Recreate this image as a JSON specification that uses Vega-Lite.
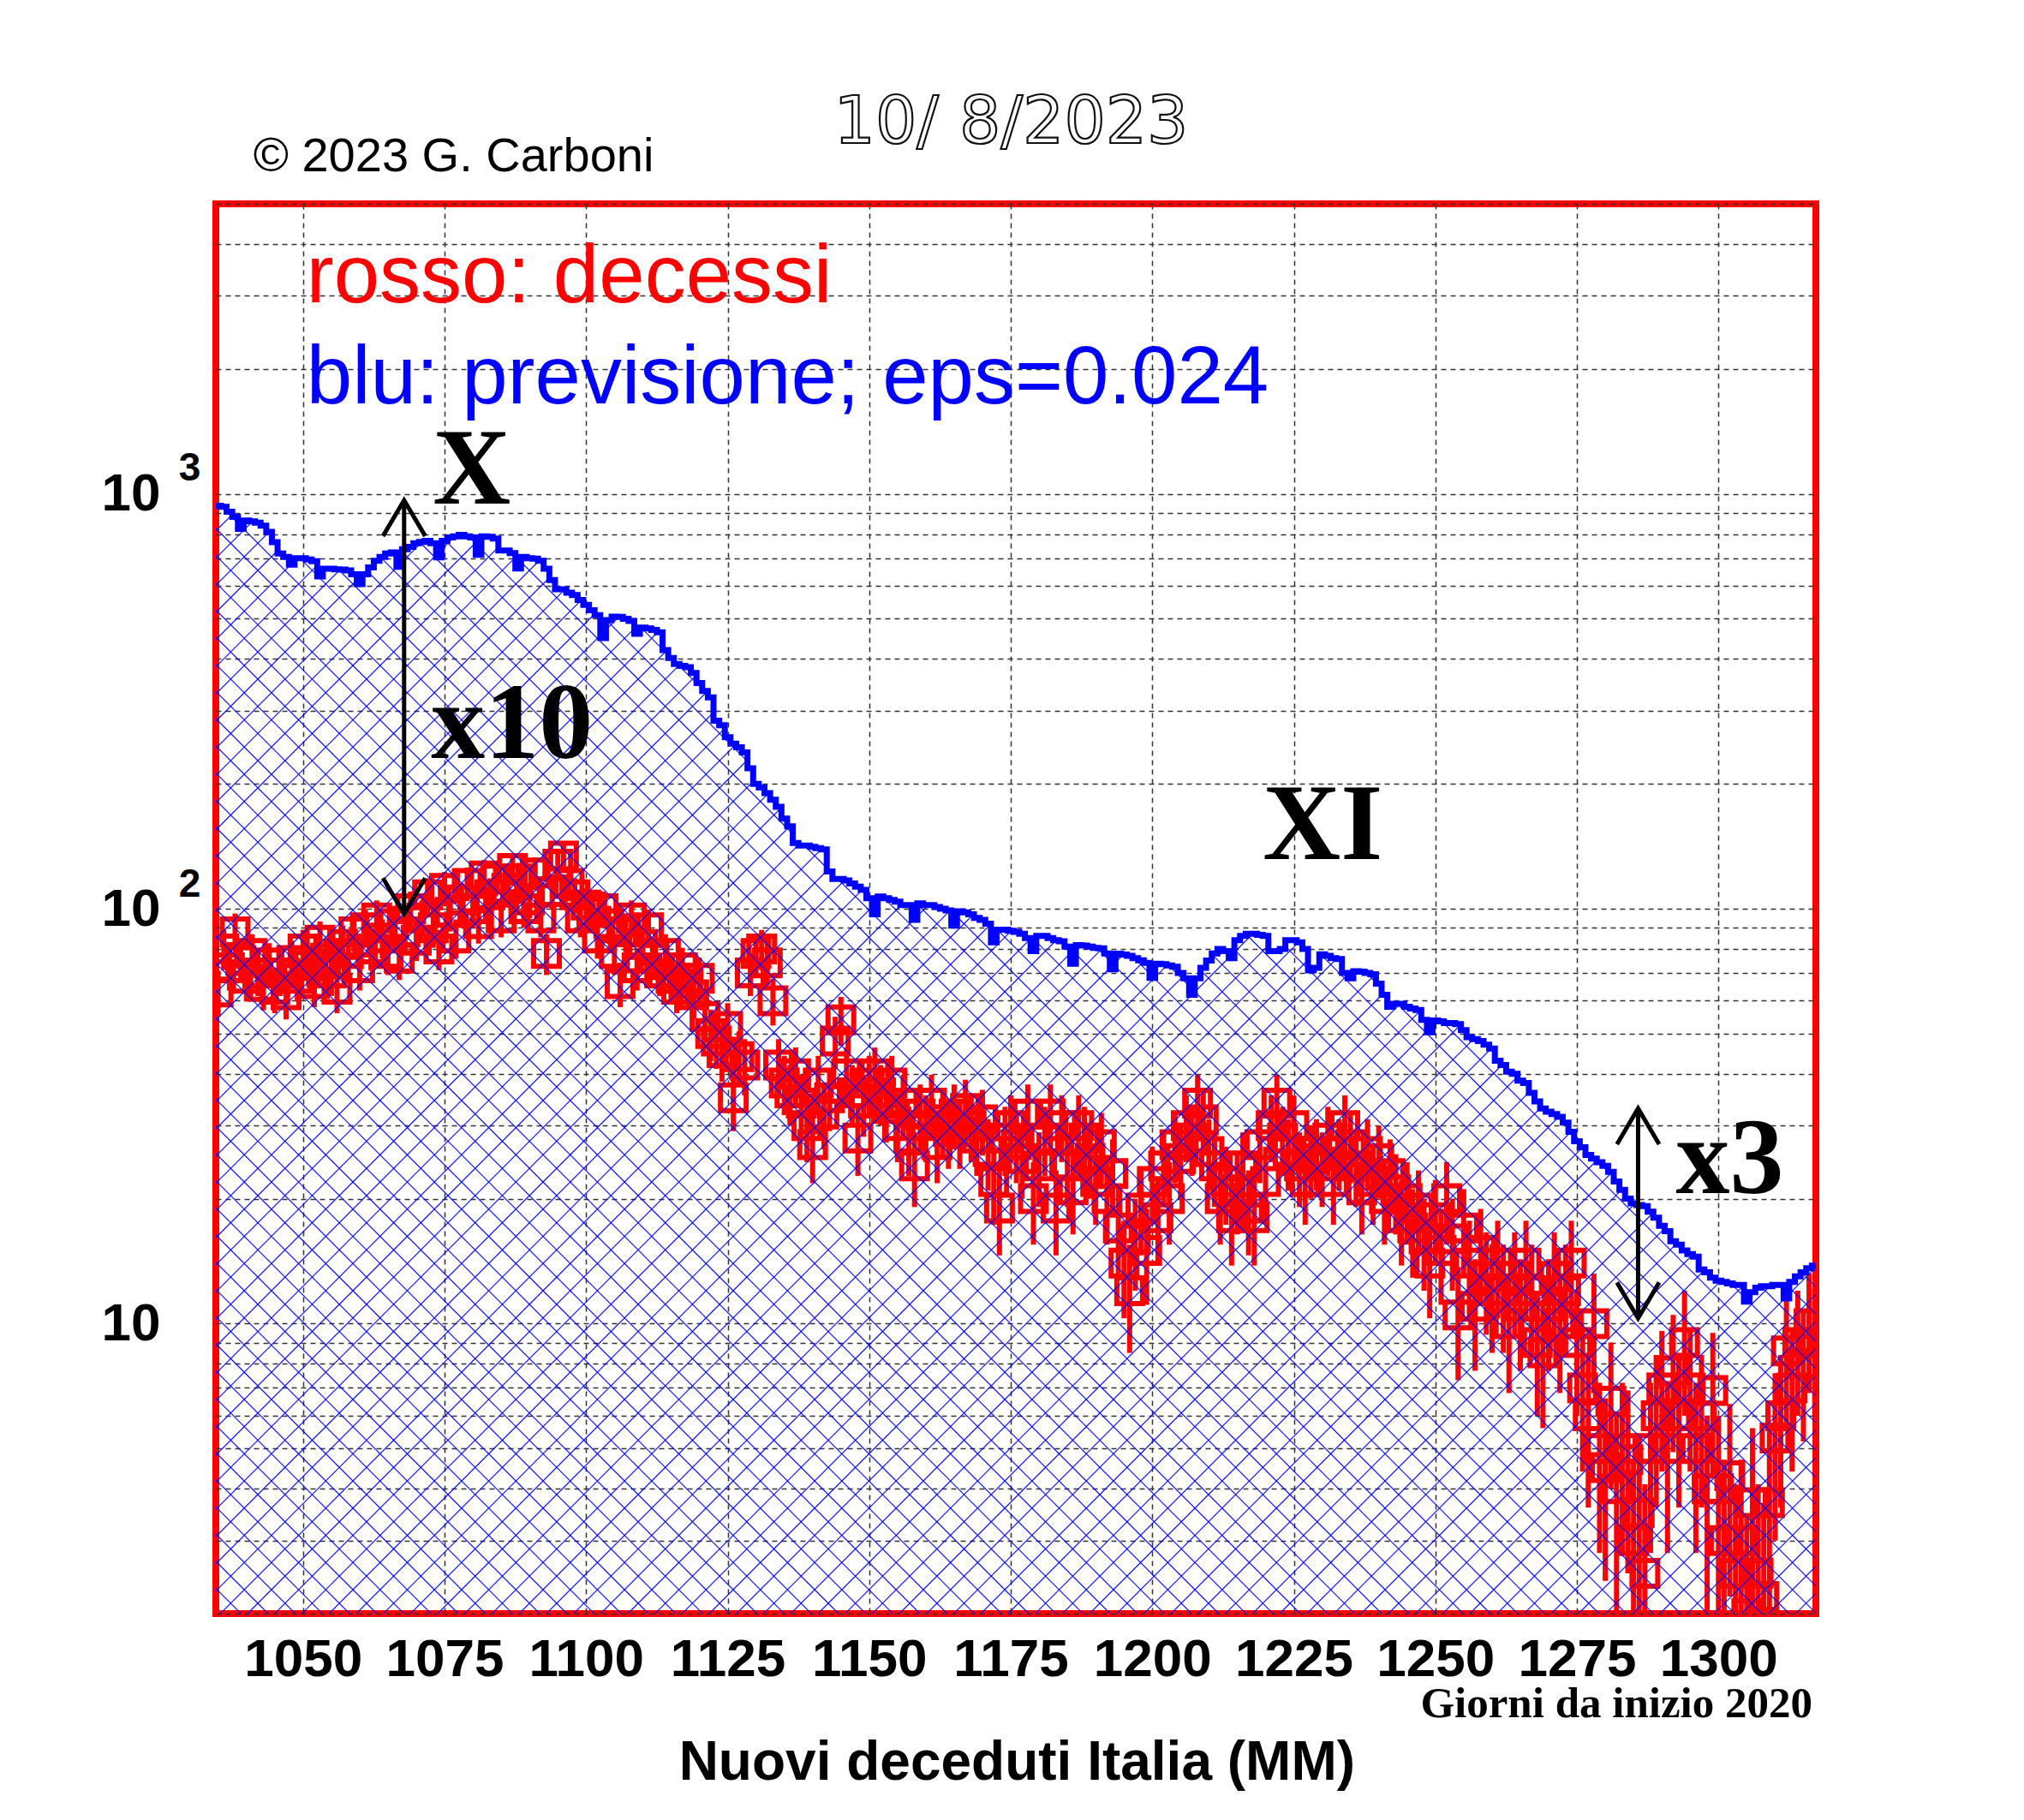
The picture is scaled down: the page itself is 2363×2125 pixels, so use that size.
{
"width":1868,"height":1646,
"autosize":"none",
"padding":{"left":252,"top":238,"right":243,"bottom":241},
"background":"white",
"config":{"view":{"stroke":"#ff0000","strokeWidth":8}},
"datasets":{
"blue":[{"d":1034,"v":936},{"d":1035,"v":936},{"d":1036,"v":930},{"d":1037,"v":905},{"d":1038,"v":880},{"d":1039,"v":823},{"d":1040,"v":862},{"d":1041,"v":858},{"d":1042,"v":852},{"d":1043,"v":838},{"d":1044,"v":810},{"d":1045,"v":765},{"d":1046,"v":718},{"d":1047,"v":705},{"d":1048,"v":675},{"d":1049,"v":700},{"d":1050,"v":700},{"d":1051,"v":695},{"d":1052,"v":688},{"d":1053,"v":632},{"d":1054,"v":660},{"d":1055,"v":660},{"d":1056,"v":658},{"d":1057,"v":657},{"d":1058,"v":654},{"d":1059,"v":640},{"d":1060,"v":606},{"d":1061,"v":640},{"d":1062,"v":665},{"d":1063,"v":690},{"d":1064,"v":705},{"d":1065,"v":718},{"d":1066,"v":722},{"d":1067,"v":667},{"d":1068,"v":735},{"d":1069,"v":745},{"d":1070,"v":760},{"d":1071,"v":766},{"d":1072,"v":770},{"d":1073,"v":760},{"d":1074,"v":703},{"d":1075,"v":770},{"d":1076,"v":785},{"d":1077,"v":790},{"d":1078,"v":796},{"d":1079,"v":790},{"d":1080,"v":785},{"d":1081,"v":713},{"d":1082,"v":790},{"d":1083,"v":788},{"d":1084,"v":780},{"d":1085,"v":730},{"d":1086,"v":730},{"d":1087,"v":720},{"d":1088,"v":661},{"d":1089,"v":705},{"d":1090,"v":700},{"d":1091,"v":698},{"d":1092,"v":690},{"d":1093,"v":660},{"d":1094,"v":620},{"d":1095,"v":589},{"d":1096,"v":589},{"d":1097,"v":578},{"d":1098,"v":570},{"d":1099,"v":555},{"d":1100,"v":540},{"d":1101,"v":524},{"d":1102,"v":510},{"d":1103,"v":449},{"d":1104,"v":496},{"d":1105,"v":506},{"d":1106,"v":505},{"d":1107,"v":500},{"d":1108,"v":494},{"d":1109,"v":460},{"d":1110,"v":476},{"d":1111,"v":474},{"d":1112,"v":470},{"d":1113,"v":464},{"d":1114,"v":420},{"d":1115,"v":402},{"d":1116,"v":389},{"d":1117,"v":385},{"d":1118,"v":382},{"d":1119,"v":370},{"d":1120,"v":350},{"d":1121,"v":335},{"d":1122,"v":323},{"d":1123,"v":284},{"d":1124,"v":277},{"d":1125,"v":259},{"d":1126,"v":250},{"d":1127,"v":245},{"d":1128,"v":238},{"d":1129,"v":218},{"d":1130,"v":200},{"d":1131,"v":196},{"d":1132,"v":190},{"d":1133,"v":183},{"d":1134,"v":176},{"d":1135,"v":165},{"d":1136,"v":158},{"d":1137,"v":144},{"d":1138,"v":142},{"d":1139,"v":142},{"d":1140,"v":141},{"d":1141,"v":140},{"d":1142,"v":139},{"d":1143,"v":123},{"d":1144,"v":118},{"d":1145,"v":118},{"d":1146,"v":117},{"d":1147,"v":115},{"d":1148,"v":113},{"d":1149,"v":111},{"d":1150,"v":106},{"d":1151,"v":97},{"d":1152,"v":107},{"d":1153,"v":106},{"d":1154,"v":105},{"d":1155,"v":104},{"d":1156,"v":102},{"d":1157,"v":102},{"d":1158,"v":94},{"d":1159,"v":103},{"d":1160,"v":102},{"d":1161,"v":102},{"d":1162,"v":101},{"d":1163,"v":100},{"d":1164,"v":99},{"d":1165,"v":91},{"d":1166,"v":98.6},{"d":1167,"v":98},{"d":1168,"v":97},{"d":1169,"v":95},{"d":1170,"v":94},{"d":1171,"v":92},{"d":1172,"v":83},{"d":1173,"v":89},{"d":1174,"v":89},{"d":1175,"v":88.5},{"d":1176,"v":88},{"d":1177,"v":87},{"d":1178,"v":85},{"d":1179,"v":79},{"d":1180,"v":86},{"d":1181,"v":86},{"d":1182,"v":85},{"d":1183,"v":84},{"d":1184,"v":83.5},{"d":1185,"v":81},{"d":1186,"v":73.7},{"d":1187,"v":81.7},{"d":1188,"v":81.5},{"d":1189,"v":81},{"d":1190,"v":80.5},{"d":1191,"v":80.3},{"d":1192,"v":78},{"d":1193,"v":71.4},{"d":1194,"v":77.9},{"d":1195,"v":77.5},{"d":1196,"v":77},{"d":1197,"v":76},{"d":1198,"v":75.1},{"d":1199,"v":74},{"d":1200,"v":68.1},{"d":1201,"v":73.7},{"d":1202,"v":73.5},{"d":1203,"v":73},{"d":1204,"v":72.5},{"d":1205,"v":70},{"d":1206,"v":68},{"d":1207,"v":62},{"d":1208,"v":68},{"d":1209,"v":72},{"d":1210,"v":75},{"d":1211,"v":78},{"d":1212,"v":80},{"d":1213,"v":79},{"d":1214,"v":76},{"d":1215,"v":84},{"d":1216,"v":86},{"d":1217,"v":87},{"d":1218,"v":87},{"d":1219,"v":86.5},{"d":1220,"v":86},{"d":1221,"v":79},{"d":1222,"v":79},{"d":1223,"v":80},{"d":1224,"v":84},{"d":1225,"v":84},{"d":1226,"v":83},{"d":1227,"v":80},{"d":1228,"v":71},{"d":1229,"v":72},{"d":1230,"v":77.6},{"d":1231,"v":77},{"d":1232,"v":76},{"d":1233,"v":75.6},{"d":1234,"v":70},{"d":1235,"v":68},{"d":1236,"v":70.7},{"d":1237,"v":70.5},{"d":1238,"v":70},{"d":1239,"v":69.5},{"d":1240,"v":66},{"d":1241,"v":62},{"d":1242,"v":58},{"d":1243,"v":59},{"d":1244,"v":59},{"d":1245,"v":58},{"d":1246,"v":57.5},{"d":1247,"v":57},{"d":1248,"v":54},{"d":1249,"v":50.4},{"d":1250,"v":53.8},{"d":1251,"v":53.5},{"d":1252,"v":53},{"d":1253,"v":53},{"d":1254,"v":52.7},{"d":1255,"v":51},{"d":1256,"v":49},{"d":1257,"v":48.5},{"d":1258,"v":48},{"d":1259,"v":47},{"d":1260,"v":46},{"d":1261,"v":43},{"d":1262,"v":42},{"d":1263,"v":40.5},{"d":1264,"v":40},{"d":1265,"v":38.5},{"d":1266,"v":38},{"d":1267,"v":36},{"d":1268,"v":34.3},{"d":1269,"v":33},{"d":1270,"v":32.4},{"d":1271,"v":32},{"d":1272,"v":31.5},{"d":1273,"v":30.5},{"d":1274,"v":29},{"d":1275,"v":27.5},{"d":1276,"v":26.6},{"d":1277,"v":25.5},{"d":1278,"v":25},{"d":1279,"v":24.5},{"d":1280,"v":24},{"d":1281,"v":23.2},{"d":1282,"v":22},{"d":1283,"v":21},{"d":1284,"v":20},{"d":1285,"v":19.5},{"d":1286,"v":19.3},{"d":1287,"v":19.2},{"d":1288,"v":18.6},{"d":1289,"v":18},{"d":1290,"v":17.2},{"d":1291,"v":16.7},{"d":1292,"v":15.8},{"d":1293,"v":15.5},{"d":1294,"v":15},{"d":1295,"v":14.7},{"d":1296,"v":14.5},{"d":1297,"v":13.5},{"d":1298,"v":13.3},{"d":1299,"v":12.9},{"d":1300,"v":12.7},{"d":1301,"v":12.6},{"d":1302,"v":12.5},{"d":1303,"v":12.4},{"d":1304,"v":12.4},{"d":1305,"v":11.3},{"d":1306,"v":11.9},{"d":1307,"v":12.2},{"d":1308,"v":12.3},{"d":1309,"v":12.3},{"d":1310,"v":12.4},{"d":1311,"v":12.4},{"d":1312,"v":11.5},{"d":1313,"v":12.6},{"d":1314,"v":13},{"d":1315,"v":13.3},{"d":1316,"v":13.6},{"d":1317,"v":13.8},{"d":1318,"v":13.8}],
"red":[{"d":1035,"v":63,"e":7.9},{"d":1036,"v":80,"e":8.9},{"d":1037,"v":72,"e":8.5},{"d":1038,"v":88,"e":9.4},{"d":1039,"v":75,"e":8.7},{"d":1040,"v":68,"e":8.2},{"d":1041,"v":78,"e":8.8},{"d":1042,"v":70,"e":8.4},{"d":1043,"v":65,"e":8.1},{"d":1044,"v":74,"e":8.6},{"d":1045,"v":64,"e":8},{"d":1046,"v":70,"e":8.4},{"d":1047,"v":62,"e":7.9},{"d":1048,"v":75,"e":8.7},{"d":1049,"v":68,"e":8.2},{"d":1050,"v":80,"e":8.9},{"d":1051,"v":73,"e":8.5},{"d":1052,"v":66,"e":8.1},{"d":1053,"v":84,"e":9.2},{"d":1054,"v":76,"e":8.7},{"d":1055,"v":70,"e":8.4},{"d":1056,"v":64,"e":8},{"d":1057,"v":82,"e":9.1},{"d":1058,"v":78,"e":8.8},{"d":1059,"v":88,"e":9.4},{"d":1060,"v":72,"e":8.5},{"d":1061,"v":90,"e":9.5},{"d":1062,"v":80,"e":8.9},{"d":1063,"v":95,"e":9.7},{"d":1064,"v":85,"e":9.2},{"d":1065,"v":78,"e":8.8},{"d":1066,"v":92,"e":9.6},{"d":1067,"v":76,"e":8.7},{"d":1068,"v":88,"e":9.4},{"d":1069,"v":100,"e":10},{"d":1070,"v":84,"e":9.2},{"d":1071,"v":95,"e":9.7},{"d":1072,"v":108,"e":10.4},{"d":1073,"v":90,"e":9.5},{"d":1074,"v":80,"e":8.9},{"d":1075,"v":112,"e":10.6},{"d":1076,"v":98,"e":9.9},{"d":1077,"v":85,"e":9.2},{"d":1078,"v":105,"e":10.2},{"d":1079,"v":115,"e":10.7},{"d":1080,"v":100,"e":10},{"d":1081,"v":92,"e":9.6},{"d":1082,"v":120,"e":11},{"d":1083,"v":108,"e":10.4},{"d":1084,"v":118,"e":10.9},{"d":1085,"v":95,"e":9.7},{"d":1086,"v":112,"e":10.6},{"d":1087,"v":125,"e":11.2},{"d":1088,"v":118,"e":10.9},{"d":1089,"v":100,"e":10},{"d":1090,"v":105,"e":10.2},{"d":1091,"v":122,"e":11},{"d":1092,"v":95,"e":9.7},{"d":1093,"v":78,"e":8.8},{"d":1094,"v":110,"e":10.5},{"d":1095,"v":128,"e":11.3},{"d":1096,"v":134,"e":11.6},{"d":1097,"v":115,"e":10.7},{"d":1098,"v":108,"e":10.4},{"d":1099,"v":95,"e":9.7},{"d":1100,"v":102,"e":10.1},{"d":1101,"v":98,"e":9.9},{"d":1102,"v":85,"e":9.2},{"d":1103,"v":100,"e":10},{"d":1104,"v":92,"e":9.6},{"d":1105,"v":78,"e":8.8},{"d":1106,"v":66,"e":8.1},{"d":1107,"v":88,"e":9.4},{"d":1108,"v":95,"e":9.7},{"d":1109,"v":72,"e":8.5},{"d":1110,"v":82,"e":9.1},{"d":1111,"v":90,"e":9.5},{"d":1112,"v":76,"e":8.7},{"d":1113,"v":70,"e":8.4},{"d":1114,"v":78,"e":8.8},{"d":1115,"v":68,"e":8.2},{"d":1116,"v":64,"e":8},{"d":1117,"v":72,"e":8.5},{"d":1118,"v":66,"e":8.1},{"d":1119,"v":62,"e":7.9},{"d":1120,"v":68,"e":8.2},{"d":1121,"v":55,"e":7.4},{"d":1122,"v":50,"e":7.1},{"d":1123,"v":48,"e":6.9},{"d":1124,"v":45,"e":6.7},{"d":1125,"v":52,"e":7.2},{"d":1126,"v":35,"e":5.9},{"d":1127,"v":44,"e":6.6},{"d":1128,"v":42,"e":6.5},{"d":1129,"v":70,"e":8.4},{"d":1130,"v":78,"e":8.8},{"d":1131,"v":80,"e":8.9},{"d":1132,"v":74,"e":8.6},{"d":1133,"v":60,"e":7.7},{"d":1134,"v":42,"e":6.5},{"d":1135,"v":38,"e":6.2},{"d":1136,"v":36,"e":6},{"d":1137,"v":40,"e":6.3},{"d":1138,"v":34,"e":5.8},{"d":1139,"v":30,"e":5.5},{"d":1140,"v":27,"e":5.2},{"d":1141,"v":38,"e":6.2},{"d":1142,"v":32,"e":5.7},{"d":1143,"v":35,"e":5.9},{"d":1144,"v":48,"e":6.9},{"d":1145,"v":54,"e":7.3},{"d":1146,"v":40,"e":6.3},{"d":1147,"v":36,"e":6},{"d":1148,"v":28,"e":5.3},{"d":1149,"v":34,"e":5.8},{"d":1150,"v":38,"e":6.2},{"d":1151,"v":40,"e":6.3},{"d":1152,"v":36,"e":6},{"d":1153,"v":33,"e":5.7},{"d":1154,"v":38,"e":6.2},{"d":1155,"v":30,"e":5.5},{"d":1156,"v":34,"e":5.8},{"d":1157,"v":28,"e":5.3},{"d":1158,"v":24,"e":4.9},{"d":1159,"v":32,"e":5.7},{"d":1160,"v":30,"e":5.5},{"d":1161,"v":34,"e":5.8},{"d":1162,"v":27,"e":5.2},{"d":1163,"v":31,"e":5.6},{"d":1164,"v":29,"e":5.4},{"d":1165,"v":32,"e":5.7},{"d":1166,"v":29,"e":5.4},{"d":1167,"v":33,"e":5.7},{"d":1168,"v":30,"e":5.5},{"d":1169,"v":28,"e":5.3},{"d":1170,"v":31,"e":5.6},{"d":1171,"v":26,"e":5.1},{"d":1172,"v":22,"e":4.7},{"d":1173,"v":19,"e":4.4},{"d":1174,"v":28,"e":5.3},{"d":1175,"v":30,"e":5.5},{"d":1176,"v":27,"e":5.2},{"d":1177,"v":25,"e":5},{"d":1178,"v":32,"e":5.7},{"d":1179,"v":20,"e":4.5},{"d":1180,"v":24,"e":4.9},{"d":1181,"v":28,"e":5.3},{"d":1182,"v":32,"e":5.7},{"d":1183,"v":19,"e":4.4},{"d":1184,"v":30,"e":5.5},{"d":1185,"v":24,"e":4.9},{"d":1186,"v":21,"e":4.6},{"d":1187,"v":30,"e":5.5},{"d":1188,"v":28,"e":5.3},{"d":1189,"v":25,"e":5},{"d":1190,"v":22,"e":4.7},{"d":1191,"v":27,"e":5.2},{"d":1192,"v":20,"e":4.5},{"d":1193,"v":23,"e":4.8},{"d":1194,"v":17,"e":4.1},{"d":1195,"v":14,"e":3.7},{"d":1196,"v":12,"e":3.5},{"d":1197,"v":16,"e":4},{"d":1198,"v":19,"e":4.4},{"d":1199,"v":15,"e":3.9},{"d":1200,"v":22,"e":4.7},{"d":1201,"v":18,"e":4.2},{"d":1202,"v":24,"e":4.9},{"d":1203,"v":20,"e":4.5},{"d":1204,"v":27,"e":5.2},{"d":1205,"v":25,"e":5},{"d":1206,"v":30,"e":5.5},{"d":1207,"v":28,"e":5.3},{"d":1208,"v":34,"e":5.8},{"d":1209,"v":31,"e":5.6},{"d":1210,"v":26,"e":5.1},{"d":1211,"v":24,"e":4.9},{"d":1212,"v":20,"e":4.5},{"d":1213,"v":22,"e":4.7},{"d":1214,"v":18,"e":4.2},{"d":1215,"v":21,"e":4.6},{"d":1216,"v":24,"e":4.9},{"d":1217,"v":19,"e":4.4},{"d":1218,"v":18,"e":4.2},{"d":1219,"v":27,"e":5.2},{"d":1220,"v":22,"e":4.7},{"d":1221,"v":30,"e":5.5},{"d":1222,"v":34,"e":5.8},{"d":1223,"v":28,"e":5.3},{"d":1224,"v":26,"e":5.1},{"d":1225,"v":30,"e":5.5},{"d":1226,"v":24,"e":4.9},{"d":1227,"v":22,"e":4.7},{"d":1228,"v":25,"e":5},{"d":1229,"v":26,"e":5.1},{"d":1230,"v":24,"e":4.9},{"d":1231,"v":28,"e":5.3},{"d":1232,"v":22,"e":4.7},{"d":1233,"v":26,"e":5.1},{"d":1234,"v":30,"e":5.5},{"d":1235,"v":27,"e":5.2},{"d":1236,"v":24,"e":4.9},{"d":1237,"v":21,"e":4.6},{"d":1238,"v":26,"e":5.1},{"d":1239,"v":22,"e":4.7},{"d":1240,"v":25,"e":5},{"d":1241,"v":20,"e":4.5},{"d":1242,"v":23,"e":4.8},{"d":1243,"v":21,"e":4.6},{"d":1244,"v":18,"e":4.2},{"d":1245,"v":20,"e":4.5},{"d":1246,"v":17,"e":4.1},{"d":1247,"v":19,"e":4.4},{"d":1248,"v":16,"e":4},{"d":1249,"v":14,"e":3.7},{"d":1250,"v":18,"e":4.2},{"d":1251,"v":15,"e":3.9},{"d":1252,"v":20,"e":4.5},{"d":1253,"v":16,"e":4},{"d":1254,"v":10.5,"e":3.2},{"d":1255,"v":17,"e":4.1},{"d":1256,"v":14,"e":3.7},{"d":1257,"v":11,"e":3.3},{"d":1258,"v":15,"e":3.9},{"d":1259,"v":13,"e":3.6},{"d":1260,"v":12,"e":3.5},{"d":1261,"v":14,"e":3.7},{"d":1262,"v":12,"e":3.5},{"d":1263,"v":10,"e":3.2},{"d":1264,"v":13,"e":3.6},{"d":1265,"v":11,"e":3.3},{"d":1266,"v":14,"e":3.7},{"d":1267,"v":12,"e":3.5},{"d":1268,"v":9,"e":3},{"d":1269,"v":8.5,"e":2.9},{"d":1270,"v":11,"e":3.3},{"d":1271,"v":13,"e":3.6},{"d":1272,"v":10,"e":3.2},{"d":1273,"v":12,"e":3.5},{"d":1274,"v":14,"e":3.7},{"d":1275,"v":9,"e":3},{"d":1276,"v":7,"e":2.6},{"d":1277,"v":6,"e":2.4},{"d":1278,"v":10,"e":3.2},{"d":1279,"v":5,"e":2.2},{"d":1280,"v":4.5,"e":2.1},{"d":1281,"v":6.5,"e":2.5},{"d":1282,"v":4,"e":2},{"d":1283,"v":5,"e":2.2},{"d":1284,"v":4.7,"e":2.2},{"d":1285,"v":3,"e":1.7},{"d":1286,"v":3.5,"e":1.9},{"d":1287,"v":2.5,"e":1.6},{"d":1288,"v":5,"e":2.2},{"d":1289,"v":6,"e":2.4},{"d":1290,"v":7,"e":2.6},{"d":1291,"v":5,"e":2.2},{"d":1292,"v":7.7,"e":2.8},{"d":1293,"v":6,"e":2.4},{"d":1294,"v":9,"e":3},{"d":1295,"v":7,"e":2.6},{"d":1296,"v":5,"e":2.2},{"d":1297,"v":6,"e":2.4},{"d":1298,"v":4,"e":2},{"d":1299,"v":6.9,"e":2.6},{"d":1300,"v":4,"e":2},{"d":1301,"v":3,"e":1.7},{"d":1302,"v":4.3,"e":2.1},{"d":1303,"v":2.5,"e":1.6},{"d":1304,"v":3,"e":1.7},{"d":1305,"v":2,"e":1.4},{"d":1306,"v":3.7,"e":1.9},{"d":1307,"v":2.5,"e":1.6},{"d":1308,"v":2.2,"e":1.5},{"d":1309,"v":3.7,"e":1.9},{"d":1310,"v":5.3,"e":2.3},{"d":1311,"v":6,"e":2.4},{"d":1312,"v":8.6,"e":2.9},{"d":1313,"v":7,"e":2.6},{"d":1314,"v":9,"e":3},{"d":1315,"v":8,"e":2.8},{"d":1316,"v":10,"e":3.2},{"d":1317,"v":9,"e":3}]
},
"encoding":{
"x":{"field":"d","type":"quantitative","title":null,"scale":{"domain":[1034.6,1317.2],"nice":false,"zero":false},
"axis":{"values":[1050,1075,1100,1125,1150,1175,1200,1225,1250,1275,1300],"format":"d","grid":true,"gridColor":"#333","gridDash":[6,5],"gridWidth":1.5,"ticks":false,"tickSize":0,"domain":false,"labelFont":"Liberation Sans","labelFontWeight":"bold","labelFontSize":62,"labelColor":"#000","labelPadding":23,"labelFlush":false,"labelOverlap":false}},
"y":{"field":"v","type":"quantitative","title":null,"scale":{"type":"log","domain":[2,5000],"nice":false},
"axis":{"values":[2,3,4,5,6,7,8,9,10,20,30,40,50,60,70,80,90,100,200,300,400,500,600,700,800,900,1000,2000,3000,4000,5000],"labelExpr":"datum.value==10||datum.value==100||datum.value==1000?'10':''","grid":true,"gridColor":"#333","gridDash":[6,5],"gridWidth":1.5,"ticks":false,"tickSize":0,"domain":false,"labelFont":"Liberation Sans","labelFontWeight":"bold","labelFontSize":62,"labelColor":"#000","labelPadding":65,"labelOverlap":false,"labelFlush":false}}
},
"layer":[
{"data":{"name":"red"},"mark":{"type":"errorbar","ticks":false,"clip":true,"color":"#ff0000","rule":{"strokeWidth":6}},"encoding":{"yError":{"field":"e"}}},
{"data":{"name":"red"},"mark":{"type":"point","shape":"square","filled":false,"size":900,"strokeWidth":6,"color":"#ff0000","opacity":1,"clip":true}},
{"data":{"name":"blue"},"mark":{"type":"area","interpolate":"step","clip":true,"fill":{"gradient":"linear","x1":0,"y1":0,"x2":1.146,"y2":0.789,"stops":[
{"offset":0,"color":"#00f0"},{"offset":0.0005,"color":"#00f"},{"offset":0.001,"color":"#00f0"},
{"offset":0.01,"color":"#00f0"},{"offset":0.0105,"color":"#00f"},{"offset":0.011,"color":"#00f0"},
{"offset":0.02,"color":"#00f0"},{"offset":0.0205,"color":"#00f"},{"offset":0.021,"color":"#00f0"},
{"offset":0.03,"color":"#00f0"},{"offset":0.0305,"color":"#00f"},{"offset":0.031,"color":"#00f0"},
{"offset":0.04,"color":"#00f0"},{"offset":0.0405,"color":"#00f"},{"offset":0.041,"color":"#00f0"},
{"offset":0.05,"color":"#00f0"},{"offset":0.0505,"color":"#00f"},{"offset":0.051,"color":"#00f0"},
{"offset":0.06,"color":"#00f0"},{"offset":0.0605,"color":"#00f"},{"offset":0.061,"color":"#00f0"},
{"offset":0.07,"color":"#00f0"},{"offset":0.0705,"color":"#00f"},{"offset":0.071,"color":"#00f0"},
{"offset":0.08,"color":"#00f0"},{"offset":0.0805,"color":"#00f"},{"offset":0.081,"color":"#00f0"},
{"offset":0.09,"color":"#00f0"},{"offset":0.0905,"color":"#00f"},{"offset":0.091,"color":"#00f0"},
{"offset":0.1,"color":"#00f0"},{"offset":0.1005,"color":"#00f"},{"offset":0.101,"color":"#00f0"},
{"offset":0.11,"color":"#00f0"},{"offset":0.1105,"color":"#00f"},{"offset":0.111,"color":"#00f0"},
{"offset":0.12,"color":"#00f0"},{"offset":0.1205,"color":"#00f"},{"offset":0.121,"color":"#00f0"},
{"offset":0.13,"color":"#00f0"},{"offset":0.1305,"color":"#00f"},{"offset":0.131,"color":"#00f0"},
{"offset":0.14,"color":"#00f0"},{"offset":0.1405,"color":"#00f"},{"offset":0.141,"color":"#00f0"},
{"offset":0.15,"color":"#00f0"},{"offset":0.1505,"color":"#00f"},{"offset":0.151,"color":"#00f0"},
{"offset":0.16,"color":"#00f0"},{"offset":0.1605,"color":"#00f"},{"offset":0.161,"color":"#00f0"},
{"offset":0.17,"color":"#00f0"},{"offset":0.1705,"color":"#00f"},{"offset":0.171,"color":"#00f0"},
{"offset":0.18,"color":"#00f0"},{"offset":0.1805,"color":"#00f"},{"offset":0.181,"color":"#00f0"},
{"offset":0.19,"color":"#00f0"},{"offset":0.1905,"color":"#00f"},{"offset":0.191,"color":"#00f0"},
{"offset":0.2,"color":"#00f0"},{"offset":0.2005,"color":"#00f"},{"offset":0.201,"color":"#00f0"},
{"offset":0.21,"color":"#00f0"},{"offset":0.2105,"color":"#00f"},{"offset":0.211,"color":"#00f0"},
{"offset":0.22,"color":"#00f0"},{"offset":0.2205,"color":"#00f"},{"offset":0.221,"color":"#00f0"},
{"offset":0.23,"color":"#00f0"},{"offset":0.2305,"color":"#00f"},{"offset":0.231,"color":"#00f0"},
{"offset":0.24,"color":"#00f0"},{"offset":0.2405,"color":"#00f"},{"offset":0.241,"color":"#00f0"},
{"offset":0.25,"color":"#00f0"},{"offset":0.2505,"color":"#00f"},{"offset":0.251,"color":"#00f0"},
{"offset":0.26,"color":"#00f0"},{"offset":0.2605,"color":"#00f"},{"offset":0.261,"color":"#00f0"},
{"offset":0.27,"color":"#00f0"},{"offset":0.2705,"color":"#00f"},{"offset":0.271,"color":"#00f0"},
{"offset":0.28,"color":"#00f0"},{"offset":0.2805,"color":"#00f"},{"offset":0.281,"color":"#00f0"},
{"offset":0.29,"color":"#00f0"},{"offset":0.2905,"color":"#00f"},{"offset":0.291,"color":"#00f0"},
{"offset":0.3,"color":"#00f0"},{"offset":0.3005,"color":"#00f"},{"offset":0.301,"color":"#00f0"},
{"offset":0.31,"color":"#00f0"},{"offset":0.3105,"color":"#00f"},{"offset":0.311,"color":"#00f0"},
{"offset":0.32,"color":"#00f0"},{"offset":0.3205,"color":"#00f"},{"offset":0.321,"color":"#00f0"},
{"offset":0.33,"color":"#00f0"},{"offset":0.3305,"color":"#00f"},{"offset":0.331,"color":"#00f0"},
{"offset":0.34,"color":"#00f0"},{"offset":0.3405,"color":"#00f"},{"offset":0.341,"color":"#00f0"},
{"offset":0.35,"color":"#00f0"},{"offset":0.3505,"color":"#00f"},{"offset":0.351,"color":"#00f0"},
{"offset":0.36,"color":"#00f0"},{"offset":0.3605,"color":"#00f"},{"offset":0.361,"color":"#00f0"},
{"offset":0.37,"color":"#00f0"},{"offset":0.3705,"color":"#00f"},{"offset":0.371,"color":"#00f0"},
{"offset":0.38,"color":"#00f0"},{"offset":0.3805,"color":"#00f"},{"offset":0.381,"color":"#00f0"},
{"offset":0.39,"color":"#00f0"},{"offset":0.3905,"color":"#00f"},{"offset":0.391,"color":"#00f0"},
{"offset":0.4,"color":"#00f0"},{"offset":0.4005,"color":"#00f"},{"offset":0.401,"color":"#00f0"},
{"offset":0.41,"color":"#00f0"},{"offset":0.4105,"color":"#00f"},{"offset":0.411,"color":"#00f0"},
{"offset":0.42,"color":"#00f0"},{"offset":0.4205,"color":"#00f"},{"offset":0.421,"color":"#00f0"},
{"offset":0.43,"color":"#00f0"},{"offset":0.4305,"color":"#00f"},{"offset":0.431,"color":"#00f0"},
{"offset":0.44,"color":"#00f0"},{"offset":0.4405,"color":"#00f"},{"offset":0.441,"color":"#00f0"},
{"offset":0.45,"color":"#00f0"},{"offset":0.4505,"color":"#00f"},{"offset":0.451,"color":"#00f0"},
{"offset":0.46,"color":"#00f0"},{"offset":0.4605,"color":"#00f"},{"offset":0.461,"color":"#00f0"},
{"offset":0.47,"color":"#00f0"},{"offset":0.4705,"color":"#00f"},{"offset":0.471,"color":"#00f0"},
{"offset":0.48,"color":"#00f0"},{"offset":0.4805,"color":"#00f"},{"offset":0.481,"color":"#00f0"},
{"offset":0.49,"color":"#00f0"},{"offset":0.4905,"color":"#00f"},{"offset":0.491,"color":"#00f0"},
{"offset":0.5,"color":"#00f0"},{"offset":0.5005,"color":"#00f"},{"offset":0.501,"color":"#00f0"},
{"offset":0.51,"color":"#00f0"},{"offset":0.5105,"color":"#00f"},{"offset":0.511,"color":"#00f0"},
{"offset":0.52,"color":"#00f0"},{"offset":0.5205,"color":"#00f"},{"offset":0.521,"color":"#00f0"},
{"offset":0.53,"color":"#00f0"},{"offset":0.5305,"color":"#00f"},{"offset":0.531,"color":"#00f0"},
{"offset":0.54,"color":"#00f0"},{"offset":0.5405,"color":"#00f"},{"offset":0.541,"color":"#00f0"},
{"offset":0.55,"color":"#00f0"},{"offset":0.5505,"color":"#00f"},{"offset":0.551,"color":"#00f0"},
{"offset":0.56,"color":"#00f0"},{"offset":0.5605,"color":"#00f"},{"offset":0.561,"color":"#00f0"},
{"offset":0.57,"color":"#00f0"},{"offset":0.5705,"color":"#00f"},{"offset":0.571,"color":"#00f0"},
{"offset":0.58,"color":"#00f0"},{"offset":0.5805,"color":"#00f"},{"offset":0.581,"color":"#00f0"},
{"offset":0.59,"color":"#00f0"},{"offset":0.5905,"color":"#00f"},{"offset":0.591,"color":"#00f0"},
{"offset":0.6,"color":"#00f0"},{"offset":0.6005,"color":"#00f"},{"offset":0.601,"color":"#00f0"},
{"offset":0.61,"color":"#00f0"},{"offset":0.6105,"color":"#00f"},{"offset":0.611,"color":"#00f0"},
{"offset":0.62,"color":"#00f0"},{"offset":0.6205,"color":"#00f"},{"offset":0.621,"color":"#00f0"},
{"offset":0.63,"color":"#00f0"},{"offset":0.6305,"color":"#00f"},{"offset":0.631,"color":"#00f0"},
{"offset":0.64,"color":"#00f0"},{"offset":0.6405,"color":"#00f"},{"offset":0.641,"color":"#00f0"},
{"offset":0.65,"color":"#00f0"},{"offset":0.6505,"color":"#00f"},{"offset":0.651,"color":"#00f0"},
{"offset":0.66,"color":"#00f0"},{"offset":0.6605,"color":"#00f"},{"offset":0.661,"color":"#00f0"},
{"offset":0.67,"color":"#00f0"},{"offset":0.6705,"color":"#00f"},{"offset":0.671,"color":"#00f0"},
{"offset":0.68,"color":"#00f0"},{"offset":0.6805,"color":"#00f"},{"offset":0.681,"color":"#00f0"},
{"offset":0.69,"color":"#00f0"},{"offset":0.6905,"color":"#00f"},{"offset":0.691,"color":"#00f0"},
{"offset":0.7,"color":"#00f0"},{"offset":0.7005,"color":"#00f"},{"offset":0.701,"color":"#00f0"},
{"offset":0.71,"color":"#00f0"},{"offset":0.7105,"color":"#00f"},{"offset":0.711,"color":"#00f0"},
{"offset":0.72,"color":"#00f0"},{"offset":0.7205,"color":"#00f"},{"offset":0.721,"color":"#00f0"},
{"offset":0.73,"color":"#00f0"},{"offset":0.7305,"color":"#00f"},{"offset":0.731,"color":"#00f0"},
{"offset":0.74,"color":"#00f0"},{"offset":0.7405,"color":"#00f"},{"offset":0.741,"color":"#00f0"},
{"offset":0.75,"color":"#00f0"},{"offset":0.7505,"color":"#00f"},{"offset":0.751,"color":"#00f0"},
{"offset":0.76,"color":"#00f0"},{"offset":0.7605,"color":"#00f"},{"offset":0.761,"color":"#00f0"},
{"offset":0.77,"color":"#00f0"},{"offset":0.7705,"color":"#00f"},{"offset":0.771,"color":"#00f0"},
{"offset":0.78,"color":"#00f0"},{"offset":0.7805,"color":"#00f"},{"offset":0.781,"color":"#00f0"},
{"offset":0.79,"color":"#00f0"},{"offset":0.7905,"color":"#00f"},{"offset":0.791,"color":"#00f0"},
{"offset":0.8,"color":"#00f0"},{"offset":0.8005,"color":"#00f"},{"offset":0.801,"color":"#00f0"},
{"offset":0.81,"color":"#00f0"},{"offset":0.8105,"color":"#00f"},{"offset":0.811,"color":"#00f0"},
{"offset":0.82,"color":"#00f0"},{"offset":0.8205,"color":"#00f"},{"offset":0.821,"color":"#00f0"},
{"offset":0.83,"color":"#00f0"},{"offset":0.8305,"color":"#00f"},{"offset":0.831,"color":"#00f0"},
{"offset":0.84,"color":"#00f0"},{"offset":0.8405,"color":"#00f"},{"offset":0.841,"color":"#00f0"},
{"offset":0.85,"color":"#00f0"},{"offset":0.8505,"color":"#00f"},{"offset":0.851,"color":"#00f0"},
{"offset":0.86,"color":"#00f0"},{"offset":0.8605,"color":"#00f"},{"offset":0.861,"color":"#00f0"},
{"offset":0.87,"color":"#00f0"},{"offset":0.8705,"color":"#00f"},{"offset":0.871,"color":"#00f0"},
{"offset":0.88,"color":"#00f0"},{"offset":0.8805,"color":"#00f"},{"offset":0.881,"color":"#00f0"},
{"offset":0.89,"color":"#00f0"},{"offset":0.8905,"color":"#00f"},{"offset":0.891,"color":"#00f0"},
{"offset":0.9,"color":"#00f0"},{"offset":0.9005,"color":"#00f"},{"offset":0.901,"color":"#00f0"},
{"offset":0.91,"color":"#00f0"},{"offset":0.9105,"color":"#00f"},{"offset":0.911,"color":"#00f0"},
{"offset":0.92,"color":"#00f0"},{"offset":0.9205,"color":"#00f"},{"offset":0.921,"color":"#00f0"},
{"offset":0.93,"color":"#00f0"},{"offset":0.9305,"color":"#00f"},{"offset":0.931,"color":"#00f0"},
{"offset":0.94,"color":"#00f0"},{"offset":0.9405,"color":"#00f"},{"offset":0.941,"color":"#00f0"},
{"offset":0.95,"color":"#00f0"},{"offset":0.9505,"color":"#00f"},{"offset":0.951,"color":"#00f0"},
{"offset":0.96,"color":"#00f0"},{"offset":0.9605,"color":"#00f"},{"offset":0.961,"color":"#00f0"},
{"offset":0.97,"color":"#00f0"},{"offset":0.9705,"color":"#00f"},{"offset":0.971,"color":"#00f0"},
{"offset":0.98,"color":"#00f0"},{"offset":0.9805,"color":"#00f"},{"offset":0.981,"color":"#00f0"},
{"offset":0.99,"color":"#00f0"},{"offset":0.9905,"color":"#00f"},{"offset":0.991,"color":"#00f0"},
{"offset":1,"color":"#00f0"}]}},"encoding":{"y2":{"datum":2}}},
{"data":{"name":"blue"},"mark":{"type":"area","interpolate":"step","clip":true,"fill":{"gradient":"linear","x1":0,"y1":1,"x2":1.146,"y2":0.211,"stops":[
{"offset":0,"color":"#00f0"},{"offset":0.0005,"color":"#00f"},{"offset":0.001,"color":"#00f0"},
{"offset":0.01,"color":"#00f0"},{"offset":0.0105,"color":"#00f"},{"offset":0.011,"color":"#00f0"},
{"offset":0.02,"color":"#00f0"},{"offset":0.0205,"color":"#00f"},{"offset":0.021,"color":"#00f0"},
{"offset":0.03,"color":"#00f0"},{"offset":0.0305,"color":"#00f"},{"offset":0.031,"color":"#00f0"},
{"offset":0.04,"color":"#00f0"},{"offset":0.0405,"color":"#00f"},{"offset":0.041,"color":"#00f0"},
{"offset":0.05,"color":"#00f0"},{"offset":0.0505,"color":"#00f"},{"offset":0.051,"color":"#00f0"},
{"offset":0.06,"color":"#00f0"},{"offset":0.0605,"color":"#00f"},{"offset":0.061,"color":"#00f0"},
{"offset":0.07,"color":"#00f0"},{"offset":0.0705,"color":"#00f"},{"offset":0.071,"color":"#00f0"},
{"offset":0.08,"color":"#00f0"},{"offset":0.0805,"color":"#00f"},{"offset":0.081,"color":"#00f0"},
{"offset":0.09,"color":"#00f0"},{"offset":0.0905,"color":"#00f"},{"offset":0.091,"color":"#00f0"},
{"offset":0.1,"color":"#00f0"},{"offset":0.1005,"color":"#00f"},{"offset":0.101,"color":"#00f0"},
{"offset":0.11,"color":"#00f0"},{"offset":0.1105,"color":"#00f"},{"offset":0.111,"color":"#00f0"},
{"offset":0.12,"color":"#00f0"},{"offset":0.1205,"color":"#00f"},{"offset":0.121,"color":"#00f0"},
{"offset":0.13,"color":"#00f0"},{"offset":0.1305,"color":"#00f"},{"offset":0.131,"color":"#00f0"},
{"offset":0.14,"color":"#00f0"},{"offset":0.1405,"color":"#00f"},{"offset":0.141,"color":"#00f0"},
{"offset":0.15,"color":"#00f0"},{"offset":0.1505,"color":"#00f"},{"offset":0.151,"color":"#00f0"},
{"offset":0.16,"color":"#00f0"},{"offset":0.1605,"color":"#00f"},{"offset":0.161,"color":"#00f0"},
{"offset":0.17,"color":"#00f0"},{"offset":0.1705,"color":"#00f"},{"offset":0.171,"color":"#00f0"},
{"offset":0.18,"color":"#00f0"},{"offset":0.1805,"color":"#00f"},{"offset":0.181,"color":"#00f0"},
{"offset":0.19,"color":"#00f0"},{"offset":0.1905,"color":"#00f"},{"offset":0.191,"color":"#00f0"},
{"offset":0.2,"color":"#00f0"},{"offset":0.2005,"color":"#00f"},{"offset":0.201,"color":"#00f0"},
{"offset":0.21,"color":"#00f0"},{"offset":0.2105,"color":"#00f"},{"offset":0.211,"color":"#00f0"},
{"offset":0.22,"color":"#00f0"},{"offset":0.2205,"color":"#00f"},{"offset":0.221,"color":"#00f0"},
{"offset":0.23,"color":"#00f0"},{"offset":0.2305,"color":"#00f"},{"offset":0.231,"color":"#00f0"},
{"offset":0.24,"color":"#00f0"},{"offset":0.2405,"color":"#00f"},{"offset":0.241,"color":"#00f0"},
{"offset":0.25,"color":"#00f0"},{"offset":0.2505,"color":"#00f"},{"offset":0.251,"color":"#00f0"},
{"offset":0.26,"color":"#00f0"},{"offset":0.2605,"color":"#00f"},{"offset":0.261,"color":"#00f0"},
{"offset":0.27,"color":"#00f0"},{"offset":0.2705,"color":"#00f"},{"offset":0.271,"color":"#00f0"},
{"offset":0.28,"color":"#00f0"},{"offset":0.2805,"color":"#00f"},{"offset":0.281,"color":"#00f0"},
{"offset":0.29,"color":"#00f0"},{"offset":0.2905,"color":"#00f"},{"offset":0.291,"color":"#00f0"},
{"offset":0.3,"color":"#00f0"},{"offset":0.3005,"color":"#00f"},{"offset":0.301,"color":"#00f0"},
{"offset":0.31,"color":"#00f0"},{"offset":0.3105,"color":"#00f"},{"offset":0.311,"color":"#00f0"},
{"offset":0.32,"color":"#00f0"},{"offset":0.3205,"color":"#00f"},{"offset":0.321,"color":"#00f0"},
{"offset":0.33,"color":"#00f0"},{"offset":0.3305,"color":"#00f"},{"offset":0.331,"color":"#00f0"},
{"offset":0.34,"color":"#00f0"},{"offset":0.3405,"color":"#00f"},{"offset":0.341,"color":"#00f0"},
{"offset":0.35,"color":"#00f0"},{"offset":0.3505,"color":"#00f"},{"offset":0.351,"color":"#00f0"},
{"offset":0.36,"color":"#00f0"},{"offset":0.3605,"color":"#00f"},{"offset":0.361,"color":"#00f0"},
{"offset":0.37,"color":"#00f0"},{"offset":0.3705,"color":"#00f"},{"offset":0.371,"color":"#00f0"},
{"offset":0.38,"color":"#00f0"},{"offset":0.3805,"color":"#00f"},{"offset":0.381,"color":"#00f0"},
{"offset":0.39,"color":"#00f0"},{"offset":0.3905,"color":"#00f"},{"offset":0.391,"color":"#00f0"},
{"offset":0.4,"color":"#00f0"},{"offset":0.4005,"color":"#00f"},{"offset":0.401,"color":"#00f0"},
{"offset":0.41,"color":"#00f0"},{"offset":0.4105,"color":"#00f"},{"offset":0.411,"color":"#00f0"},
{"offset":0.42,"color":"#00f0"},{"offset":0.4205,"color":"#00f"},{"offset":0.421,"color":"#00f0"},
{"offset":0.43,"color":"#00f0"},{"offset":0.4305,"color":"#00f"},{"offset":0.431,"color":"#00f0"},
{"offset":0.44,"color":"#00f0"},{"offset":0.4405,"color":"#00f"},{"offset":0.441,"color":"#00f0"},
{"offset":0.45,"color":"#00f0"},{"offset":0.4505,"color":"#00f"},{"offset":0.451,"color":"#00f0"},
{"offset":0.46,"color":"#00f0"},{"offset":0.4605,"color":"#00f"},{"offset":0.461,"color":"#00f0"},
{"offset":0.47,"color":"#00f0"},{"offset":0.4705,"color":"#00f"},{"offset":0.471,"color":"#00f0"},
{"offset":0.48,"color":"#00f0"},{"offset":0.4805,"color":"#00f"},{"offset":0.481,"color":"#00f0"},
{"offset":0.49,"color":"#00f0"},{"offset":0.4905,"color":"#00f"},{"offset":0.491,"color":"#00f0"},
{"offset":0.5,"color":"#00f0"},{"offset":0.5005,"color":"#00f"},{"offset":0.501,"color":"#00f0"},
{"offset":0.51,"color":"#00f0"},{"offset":0.5105,"color":"#00f"},{"offset":0.511,"color":"#00f0"},
{"offset":0.52,"color":"#00f0"},{"offset":0.5205,"color":"#00f"},{"offset":0.521,"color":"#00f0"},
{"offset":0.53,"color":"#00f0"},{"offset":0.5305,"color":"#00f"},{"offset":0.531,"color":"#00f0"},
{"offset":0.54,"color":"#00f0"},{"offset":0.5405,"color":"#00f"},{"offset":0.541,"color":"#00f0"},
{"offset":0.55,"color":"#00f0"},{"offset":0.5505,"color":"#00f"},{"offset":0.551,"color":"#00f0"},
{"offset":0.56,"color":"#00f0"},{"offset":0.5605,"color":"#00f"},{"offset":0.561,"color":"#00f0"},
{"offset":0.57,"color":"#00f0"},{"offset":0.5705,"color":"#00f"},{"offset":0.571,"color":"#00f0"},
{"offset":0.58,"color":"#00f0"},{"offset":0.5805,"color":"#00f"},{"offset":0.581,"color":"#00f0"},
{"offset":0.59,"color":"#00f0"},{"offset":0.5905,"color":"#00f"},{"offset":0.591,"color":"#00f0"},
{"offset":0.6,"color":"#00f0"},{"offset":0.6005,"color":"#00f"},{"offset":0.601,"color":"#00f0"},
{"offset":0.61,"color":"#00f0"},{"offset":0.6105,"color":"#00f"},{"offset":0.611,"color":"#00f0"},
{"offset":0.62,"color":"#00f0"},{"offset":0.6205,"color":"#00f"},{"offset":0.621,"color":"#00f0"},
{"offset":0.63,"color":"#00f0"},{"offset":0.6305,"color":"#00f"},{"offset":0.631,"color":"#00f0"},
{"offset":0.64,"color":"#00f0"},{"offset":0.6405,"color":"#00f"},{"offset":0.641,"color":"#00f0"},
{"offset":0.65,"color":"#00f0"},{"offset":0.6505,"color":"#00f"},{"offset":0.651,"color":"#00f0"},
{"offset":0.66,"color":"#00f0"},{"offset":0.6605,"color":"#00f"},{"offset":0.661,"color":"#00f0"},
{"offset":0.67,"color":"#00f0"},{"offset":0.6705,"color":"#00f"},{"offset":0.671,"color":"#00f0"},
{"offset":0.68,"color":"#00f0"},{"offset":0.6805,"color":"#00f"},{"offset":0.681,"color":"#00f0"},
{"offset":0.69,"color":"#00f0"},{"offset":0.6905,"color":"#00f"},{"offset":0.691,"color":"#00f0"},
{"offset":0.7,"color":"#00f0"},{"offset":0.7005,"color":"#00f"},{"offset":0.701,"color":"#00f0"},
{"offset":0.71,"color":"#00f0"},{"offset":0.7105,"color":"#00f"},{"offset":0.711,"color":"#00f0"},
{"offset":0.72,"color":"#00f0"},{"offset":0.7205,"color":"#00f"},{"offset":0.721,"color":"#00f0"},
{"offset":0.73,"color":"#00f0"},{"offset":0.7305,"color":"#00f"},{"offset":0.731,"color":"#00f0"},
{"offset":0.74,"color":"#00f0"},{"offset":0.7405,"color":"#00f"},{"offset":0.741,"color":"#00f0"},
{"offset":0.75,"color":"#00f0"},{"offset":0.7505,"color":"#00f"},{"offset":0.751,"color":"#00f0"},
{"offset":0.76,"color":"#00f0"},{"offset":0.7605,"color":"#00f"},{"offset":0.761,"color":"#00f0"},
{"offset":0.77,"color":"#00f0"},{"offset":0.7705,"color":"#00f"},{"offset":0.771,"color":"#00f0"},
{"offset":0.78,"color":"#00f0"},{"offset":0.7805,"color":"#00f"},{"offset":0.781,"color":"#00f0"},
{"offset":0.79,"color":"#00f0"},{"offset":0.7905,"color":"#00f"},{"offset":0.791,"color":"#00f0"},
{"offset":0.8,"color":"#00f0"},{"offset":0.8005,"color":"#00f"},{"offset":0.801,"color":"#00f0"},
{"offset":0.81,"color":"#00f0"},{"offset":0.8105,"color":"#00f"},{"offset":0.811,"color":"#00f0"},
{"offset":0.82,"color":"#00f0"},{"offset":0.8205,"color":"#00f"},{"offset":0.821,"color":"#00f0"},
{"offset":0.83,"color":"#00f0"},{"offset":0.8305,"color":"#00f"},{"offset":0.831,"color":"#00f0"},
{"offset":0.84,"color":"#00f0"},{"offset":0.8405,"color":"#00f"},{"offset":0.841,"color":"#00f0"},
{"offset":0.85,"color":"#00f0"},{"offset":0.8505,"color":"#00f"},{"offset":0.851,"color":"#00f0"},
{"offset":0.86,"color":"#00f0"},{"offset":0.8605,"color":"#00f"},{"offset":0.861,"color":"#00f0"},
{"offset":0.87,"color":"#00f0"},{"offset":0.8705,"color":"#00f"},{"offset":0.871,"color":"#00f0"},
{"offset":0.88,"color":"#00f0"},{"offset":0.8805,"color":"#00f"},{"offset":0.881,"color":"#00f0"},
{"offset":0.89,"color":"#00f0"},{"offset":0.8905,"color":"#00f"},{"offset":0.891,"color":"#00f0"},
{"offset":0.9,"color":"#00f0"},{"offset":0.9005,"color":"#00f"},{"offset":0.901,"color":"#00f0"},
{"offset":0.91,"color":"#00f0"},{"offset":0.9105,"color":"#00f"},{"offset":0.911,"color":"#00f0"},
{"offset":0.92,"color":"#00f0"},{"offset":0.9205,"color":"#00f"},{"offset":0.921,"color":"#00f0"},
{"offset":0.93,"color":"#00f0"},{"offset":0.9305,"color":"#00f"},{"offset":0.931,"color":"#00f0"},
{"offset":0.94,"color":"#00f0"},{"offset":0.9405,"color":"#00f"},{"offset":0.941,"color":"#00f0"},
{"offset":0.95,"color":"#00f0"},{"offset":0.9505,"color":"#00f"},{"offset":0.951,"color":"#00f0"},
{"offset":0.96,"color":"#00f0"},{"offset":0.9605,"color":"#00f"},{"offset":0.961,"color":"#00f0"},
{"offset":0.97,"color":"#00f0"},{"offset":0.9705,"color":"#00f"},{"offset":0.971,"color":"#00f0"},
{"offset":0.98,"color":"#00f0"},{"offset":0.9805,"color":"#00f"},{"offset":0.981,"color":"#00f0"},
{"offset":0.99,"color":"#00f0"},{"offset":0.9905,"color":"#00f"},{"offset":0.991,"color":"#00f0"},
{"offset":1,"color":"#00f0"}]}},"encoding":{"y2":{"datum":2}}},
{"data":{"name":"blue"},"mark":{"type":"line","interpolate":"step","clip":true,"color":"#0000ff","strokeWidth":7}},
{"data":{"values":[{"d":1067.85,"v":97.2,"v2":965},{"d":1285.8,"v":10.3,"v2":33}]},"mark":{"type":"rule","color":"#000","strokeWidth":5},"encoding":{"y2":{"field":"v2"}}},
{"data":{"values":[{"d":1067.85,"v":965},{"d":1285.8,"v":33}]},"mark":{"type":"point","shape":"M-0.56,0.95L0,0L0.56,0.95","size":7744,"filled":false,"stroke":"#000","strokeWidth":5,"opacity":1}},
{"data":{"values":[{"d":1067.85,"v":97.2},{"d":1285.8,"v":10.3}]},"mark":{"type":"point","shape":"M-0.56,-0.95L0,0L0.56,-0.95","size":7744,"filled":false,"stroke":"#000","strokeWidth":5,"opacity":1}},
{"data":{"values":[{"d":1079.8,"v":947,"t":"X"},{"d":1086.9,"v":230.8,"t":"x10"},{"d":1230.1,"v":131.8,"t":"XI"},{"d":1302,"v":20.6,"t":"x3"}]},"mark":{"type":"text","font":"Liberation Serif","fontWeight":"bold","fontSize":126,"align":"center","baseline":"alphabetic","color":"#000"},"encoding":{"text":{"field":"t"}}},
{"data":{"values":[{"d":1050.6,"v":2894,"t":"rosso: decessi"}]},"mark":{"type":"text","font":"Liberation Sans","fontSize":96,"align":"left","baseline":"alphabetic","color":"#ff0000"},"encoding":{"text":{"field":"t"}}},
{"data":{"values":[{"d":1050.6,"v":1652,"t":"blu: previsione; eps=0.024"}]},"mark":{"type":"text","font":"Liberation Sans","fontSize":96,"align":"left","baseline":"alphabetic","color":"#0000ff"},"encoding":{"text":{"field":"t"}}},
{"data":{"values":[{"d":1041.2,"v":5987,"t":"© 2023 G. Carboni"}]},"mark":{"type":"text","font":"Liberation Sans","fontSize":56,"align":"left","baseline":"alphabetic","color":"#000"},"encoding":{"text":{"field":"t"}}},
{"data":{"values":[{"d":1175.07,"v":7015,"t":"10/ 8/2023"}]},"mark":{"type":"text","font":"DejaVu Sans","fontSize":76,"align":"center","baseline":"alphabetic","fill":"#ffffff","stroke":"#111","strokeWidth":2.2},"encoding":{"text":{"field":"t"}}},
{"data":{"values":[{"d":1030,"v":1151,"t":"3"},{"d":1030,"v":114,"t":"2"}]},"mark":{"type":"text","font":"Liberation Sans","fontWeight":"bold","fontSize":46,"align":"center","baseline":"middle","color":"#000"},"encoding":{"text":{"field":"t"}}},
{"data":{"values":[{"d":1316.6,"v":1.125,"t":"Giorni da inizio 2020"}]},"mark":{"type":"text","font":"Liberation Serif","fontWeight":"bold","fontSize":51,"align":"right","baseline":"alphabetic","color":"#000"},"encoding":{"text":{"field":"t"}}},
{"data":{"values":[{"d":1176.1,"v":0.795,"t":"Nuovi deceduti Italia (MM)"}]},"mark":{"type":"text","font":"Liberation Sans","fontWeight":"bold","fontSize":64,"align":"center","baseline":"alphabetic","color":"#000"},"encoding":{"text":{"field":"t"}}}
]
}
